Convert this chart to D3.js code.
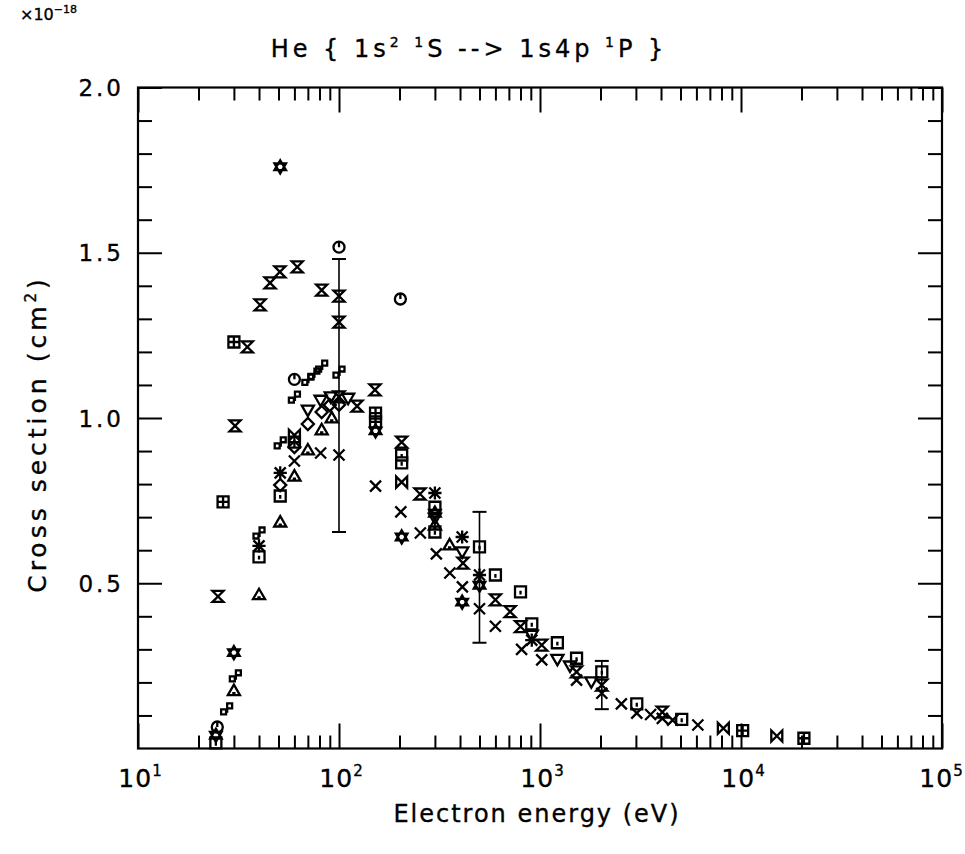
<!DOCTYPE html>
<html>
<head>
<meta charset="utf-8">
<script src="https://cdn.jsdelivr.net/npm/d3@7"></script>
<style>
  html, body { margin: 0; padding: 0; background: #fff; }
  svg text { font-family: "DejaVu Sans", "Liberation Sans", sans-serif; fill: #000; stroke: #000; stroke-width: 0.35px; }
</style>
</head>
<body>
<svg id="chart" width="965" height="854"></svg>
<script>
// ---------- DATA (energy in eV, cross section in 1e-18 cm^2) ----------
const hourglassPts = [[25,0.46],[30.4,0.976],[35,1.215],[40.5,1.342],[45.4,1.409],[50.8,1.442],[62,1.457],[82,1.387],[100,1.369],[100,1.29],[100,1.064],[123,1.036],[151,1.085],[205,0.927],[253,0.77],[414,0.561],[600,0.45],[710,0.414],[800,0.369],[1020,0.313],[1520,0.232],[2030,0.192],[4060,0.11]];
const hexagramPts = [[51,1.76],[152,0.961],[205,0.64],[300,0.712],[410,0.443],[500,0.494],[30,0.29],[24.4,0.04]];
const circlePts = [[60,1.117],[100,1.517],[202,1.36],[24.8,0.065]];
const dblSquarePts = [[27.6,0.12],[30.5,0.22],[40,0.652],[51,0.925],[60,1.063],[70,1.117],[75,1.133],[82,1.157],[100,1.139]];
const diamondPts = [[51,0.797],[60,0.912],[70,0.982],[82,1.018],[90,1.039],[100,1.04]];
const triUpPts = [[30,0.175],[40,0.465],[51,0.685],[60,0.824],[70,0.903],[82,0.964],[92,1.0],[300,0.676],[355,0.616]];
const triDownPts = [[70,1.024],[81,1.054],[91,1.064],[111,1.06],[300,0.697],[410,0.595],[910,0.343],[1220,0.27],[1410,0.25],[1800,0.202]];
const crossPts = [[60,0.87],[81,0.894],[100,0.888],[152,0.794],[203,0.716],[254,0.652],[305,0.589],[356,0.531],[411,0.489],[500,0.423],[600,0.37],[810,0.30],[1020,0.268],[1520,0.207],[2030,0.167],[2540,0.135],[3030,0.107],[3550,0.103],[4060,0.091],[4570,0.086],[6100,0.071]];
const squarePts = [[40,0.58],[51,0.764],[205,0.888],[205,0.864],[300,0.73],[300,0.655],[500,0.61],[600,0.525],[800,0.474],[910,0.377],[1220,0.32],[1520,0.273],[2030,0.232],[3030,0.135],[5070,0.088],[24.4,0.017]];
const asteriskPts = [[40,0.613],[51,0.834],[300,0.773],[410,0.64],[500,0.525],[910,0.328]];
const bowtiePts = [[60,0.948],[205,0.806],[8170,0.061],[15070,0.038]];
const plusSquarePts = [[26.5,0.746],[30,1.23],[60,0.927],[152,1.015],[152,0.988],[10190,0.054],[20560,0.031]];
// error bars: energy, low, high
const errorBars = [[100,0.655,1.481],[500,0.32,0.716],[2030,0.119,0.265]];

const xMajorTicks = [10,100,1000,10000,100000];
const xTickExponents = ["1","2","3","4","5"];
const yMajorTicks = [0.5,1.0,1.5,2.0];
const yTickLabels = ["0.5","1.0","1.5","2.0"];

// ---------- LAYOUT ----------
const svg = d3.select("#chart");
const L = 138, R = 942, T = 87.5, B = 748.5;
const x = d3.scaleLog().domain([10,1e5]).range([L,R]);
const y = d3.scaleLinear().domain([0,2]).range([B,T]);

// minor ticks
const xMinor = [];
for (let d = 10; d < 1e5; d *= 10) for (let k = 2; k <= 9; k++) xMinor.push(d*k);
const yMinor = d3.range(1,20).map(i => i/10).filter(v => Math.abs(v*2 - Math.round(v*2)) > 1e-6);

const g = svg.append("g");

function styleAxis(sel){
  sel.select(".domain").remove();
  sel.selectAll("line").attr("stroke","#000").attr("stroke-width",2);
}
// bottom
g.append("g").attr("transform",`translate(0,${B})`)
  .call(d3.axisBottom(x).tickValues(xMinor).tickSize(-13).tickFormat(""))
  .call(styleAxis);
const bx = g.append("g").attr("transform",`translate(0,${B})`)
  .call(d3.axisBottom(x).tickValues(xMajorTicks).tickSize(-25).tickPadding(0))
  .call(styleAxis);
bx.selectAll(".tick text").each(function(d,i){
  const t = d3.select(this);
  t.text(null).attr("y", 38).attr("dy", 0).attr("x", i === xMajorTicks.length-1 ? -1 : 2).attr("font-size", 25)
   .attr("text-anchor","middle").style("letter-spacing","1px");
  t.append("tspan").text("10");
  t.append("tspan").attr("dy",-11).attr("font-size",15).text(xTickExponents[i]);
});
// top
g.append("g").attr("transform",`translate(0,${T})`)
  .call(d3.axisTop(x).tickValues(xMinor).tickSize(-13).tickFormat(""))
  .call(styleAxis);
g.append("g").attr("transform",`translate(0,${T})`)
  .call(d3.axisTop(x).tickValues(xMajorTicks).tickSize(-25).tickFormat(""))
  .call(styleAxis);
// left
g.append("g").attr("transform",`translate(${L},0)`)
  .call(d3.axisLeft(y).tickValues(yMinor).tickSize(-14).tickFormat(""))
  .call(styleAxis);
const ly = g.append("g").attr("transform",`translate(${L},0)`)
  .call(d3.axisLeft(y).tickValues(yMajorTicks).tickSize(-24).tickPadding(16).tickFormat((d,i)=>yTickLabels[i]))
  .call(styleAxis);
ly.selectAll(".tick text").attr("font-size",23).attr("x",-14).attr("dy","0.35em").style("letter-spacing","3px");
// right
g.append("g").attr("transform",`translate(${R},0)`)
  .call(d3.axisRight(y).tickValues(yMinor).tickSize(-14).tickFormat(""))
  .call(styleAxis);
g.append("g").attr("transform",`translate(${R},0)`)
  .call(d3.axisRight(y).tickValues(yMajorTicks).tickSize(-24).tickFormat(""))
  .call(styleAxis);
// frame
g.append("rect").attr("x",L).attr("y",T).attr("width",R-L).attr("height",B-T)
  .attr("fill","none").attr("stroke","#000").attr("stroke-width",2.2);

// ---------- ERROR BARS ----------
const eb = g.append("g").attr("stroke","#000").attr("stroke-width",1.6);
errorBars.forEach(([e,lo,hi]) => {
  eb.append("line").attr("x1",x(e)).attr("x2",x(e)).attr("y1",y(lo)).attr("y2",y(hi));
  eb.append("line").attr("x1",x(e)-7).attr("x2",x(e)+7).attr("y1",y(lo)).attr("y2",y(lo)).attr("stroke-width",2);
  eb.append("line").attr("x1",x(e)-7).attr("x2",x(e)+7).attr("y1",y(hi)).attr("y2",y(hi)).attr("stroke-width",2);
});

// ---------- MARKERS ----------
const s = 5.5;
const shapes = {
  hourglass: `M${-s},${-s}H${s}L${-s},${s}H${s}Z`,
  bowtie: `M${-s},${-s}V${s}L${s},${-s}V${s}Z`,
  hexagram: `M0,${-s*1.2}L${s*1.05},${s*0.6}H${-s*1.05}Z M0,${s*1.2}L${s*1.05},${-s*0.6}H${-s*1.05}Z`,
  circle: `M${s},0A${s},${s} 0 1,1 ${-s},0A${s},${s} 0 1,1 ${s},0Z M0,${-s}V0`,
  dblSquare: `M${-s},${s*0.1}h${s*0.9}v${s*0.9}h${-s*0.9}Z M${s*0.1},${-s}h${s*0.9}v${s*0.9}h${-s*0.9}Z M${-s*0.1},${s*0.5}H${s*0.1}V${-s*0.1}`,
  diamond: `M0,${-s*1.1}L${s*1.1},0L0,${s*1.1}L${-s*1.1},0Z`,
  triUp: `M0,${-s*1.1}L${s*1.1},${s*0.8}H${-s*1.1}Z M${-s*0.3},${s*0.45}H${s*0.3}`,
  triDown: `M0,${s*1.1}L${s*1.1},${-s*0.8}H${-s*1.1}Z`,
  cross: `M${-s},${-s}L${s},${s}M${-s},${s}L${s},${-s}`,
  square: `M${-s},${-s}H${s}V${s}H${-s}Z M0,${-s*0.2}V${s*0.5}`,
  asterisk: `M${-s},${-s}L${s},${s}M${-s},${s}L${s},${-s}M0,${-s*1.2}V${s*1.2}M${-s*1.2},0H${s*1.2}`,
  plusSquare: `M${-s},${-s}H${s}V${s}H${-s}Z M0,${-s}V${s}M${-s},0H${s}`
};
const seriesList = [
  [hourglassPts, "hourglass"],
  [bowtiePts, "bowtie"],
  [hexagramPts, "hexagram"],
  [circlePts, "circle"],
  [dblSquarePts, "dblSquare"],
  [diamondPts, "diamond"],
  [triUpPts, "triUp"],
  [triDownPts, "triDown"],
  [crossPts, "cross"],
  [squarePts, "square"],
  [asteriskPts, "asterisk"],
  [plusSquarePts, "plusSquare"]
];
seriesList.forEach(([pts, shape]) => {
  g.append("g").selectAll("path").data(pts).join("path")
    .attr("transform", d => `translate(${x(d[0])},${y(d[1])})`)
    .attr("d", shapes[shape])
    .attr("fill", "none").attr("stroke", "#000").attr("stroke-width", 2.3)
    .attr("stroke-linejoin","miter");
});

// ---------- TEXT ----------
const title = svg.append("text").attr("x", 469).attr("y", 57).attr("text-anchor","middle")
  .attr("font-size", 24).style("letter-spacing","4px");
title.append("tspan").text("He { 1s");
title.append("tspan").attr("dy",-10).attr("font-size",14).text("2");
title.append("tspan").attr("dy",10).text(" ");
title.append("tspan").attr("dy",-10).attr("font-size",14).text("1");
title.append("tspan").attr("dy",10).text("S --> 1s4p ");
title.append("tspan").attr("dy",-10).attr("font-size",14).text("1");
title.append("tspan").attr("dy",10).text("P }");

const mult = svg.append("text").attr("x", 20).attr("y", 20).attr("font-size", 16);
mult.append("tspan").text("\u00d710");
mult.append("tspan").attr("dy",-7).attr("font-size",11).text("\u221218");

const yl = svg.append("text").attr("transform","translate(46,434) rotate(-90)")
  .attr("text-anchor","middle").attr("font-size",25).style("letter-spacing","4px");
yl.append("tspan").text("Cross section (cm");
yl.append("tspan").attr("dy",-10).attr("font-size",15).text("2");
yl.append("tspan").attr("dy",10).text(")");

svg.append("text").attr("x", 537).attr("y", 822).attr("text-anchor","middle")
  .attr("font-size",24).style("letter-spacing","2px").text("Electron energy (eV)");
</script>
</body>
</html>
